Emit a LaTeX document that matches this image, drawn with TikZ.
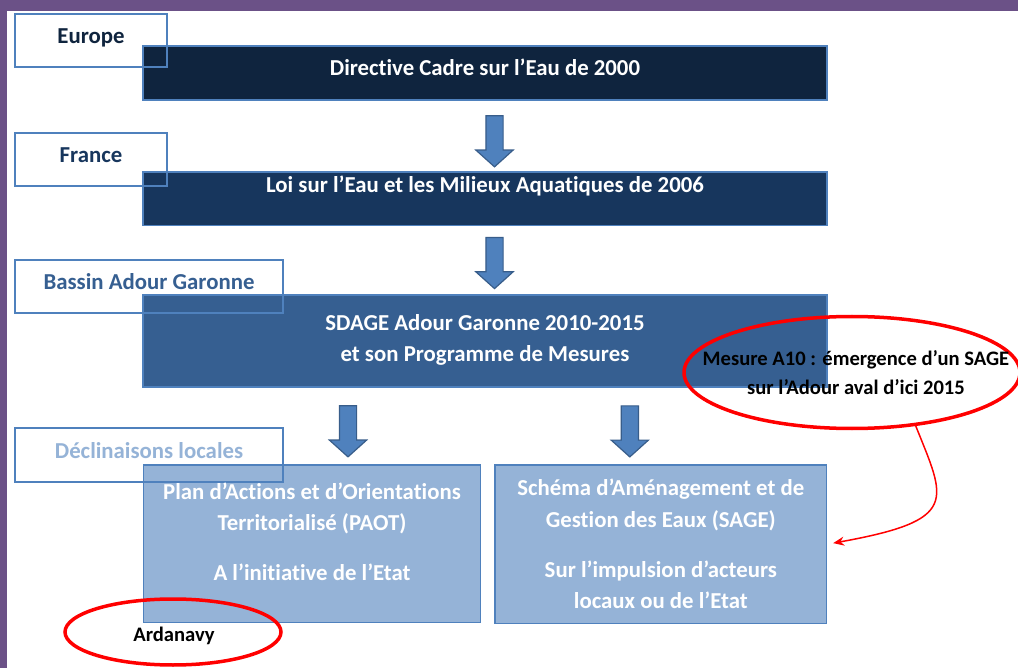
\documentclass[tikz,border=0pt]{standalone}
\usepackage{fontspec}
\setmainfont{Carlito}[Ligatures=NoCommon]
\usepackage{tikz}
\usetikzlibrary{shapes.geometric, shapes.arrows, arrows.meta, calc, positioning}

\definecolor{framepurple}{RGB}{107,81,135}
\definecolor{eurobox}{HTML}{0F243E}
\definecolor{frbox}{HTML}{17365D}
\definecolor{bassinbox}{HTML}{365F91}
\definecolor{localbox}{HTML}{95B3D7}
\definecolor{edgeblue}{HTML}{4F81BD}
\definecolor{arrowedge}{HTML}{385D8A}
\definecolor{ringred}{HTML}{FF0000}

\begin{document}
\begin{tikzpicture}[x=1pt, y=-1pt,
    levelbox/.style={rectangle, draw=edgeblue, line width=1.2pt, inner sep=0pt},
    tagbox/.style={rectangle, draw=edgeblue, line width=1.2pt, minimum height=53pt, inner sep=0pt},
    boxtext/.style={text=white, font=\fontsize{22.8}{31.5}\selectfont\bfseries, align=center, inner sep=0pt},
    tagtext/.style={font=\fontsize{22.8}{31.5}\selectfont\bfseries, inner sep=0pt},
    downarrow/.style={single arrow, draw=arrowedge, fill=edgeblue, line width=1.2pt, rotate=-90,
        minimum height=51pt, minimum width=36pt, inner xsep=0pt, inner ysep=8pt,
        single arrow head extend=10pt, single arrow tip angle=96},
    ring/.style={ellipse, draw=ringred, line width=3.5pt, inner sep=0pt},
    note/.style={font=\fontsize{20.6}{29}\selectfont\bfseries, align=center, inner sep=0pt}]

    \useasboundingbox (0, 0) rectangle (1018, 668);
    \fill[white] (0, 0) rectangle (1018, 668);
    \fill[framepurple] (0, 0) rectangle (1018, 11);
    \fill[framepurple] (0, 0) rectangle (7, 668);

    % niveaux
    \node[levelbox, fill=eurobox, minimum width=684pt, minimum height=54pt] at (485, 73) (dce) {};
    \node[levelbox, fill=frbox, minimum width=684pt, minimum height=53.5pt] at (485, 198.7) (lema) {};
    \node[levelbox, fill=bassinbox, minimum width=684pt, minimum height=92pt] at (485, 341) (sdage) {};
    \node[levelbox, fill=localbox, minimum width=337.4pt, minimum height=157.7pt] at (312, 543.8) (paot) {};
    \node[levelbox, fill=localbox, minimum width=331.7pt, minimum height=158.3pt] at (660.8, 544.2) (sage) {};

    \node[tagbox, minimum width=152pt] at (91, 40.5) (europe) {};
    \node[tagbox, minimum width=152pt] at (91, 159.5) (france) {};
    \node[tagbox, minimum width=268pt] at (149, 286.5) (bassin) {};
    \node[tagbox, minimum width=268pt, minimum height=54pt] at (149, 455) (decl) {};

    \node[tagtext, text=eurobox] at (91, 38.2) (europetxt) {Europe};
    \node[tagtext, text=frbox] at (91, 155) (francetxt) {France};
    \node[tagtext, text=bassinbox] at (149, 282) (bassintxt) {Bassin Adour Garonne};
    \node[tagtext, text=localbox] at (149, 450.4) (decltxt) {Déclinaisons locales};

    \node[boxtext] at (485, 67.1) (dcetxt) {Directive Cadre sur l’Eau de 2000};
    \node[boxtext] at (485, 186) (lematxt) {Loi sur l’Eau et les Milieux Aquatiques de 2006};
    \node[boxtext] at (485, 340.1) (sdagetxt) {SDAGE Adour Garonne 2010-2015\\ et son Programme de Mesures};
    \node[boxtext] at (312, 532) (paottxt) {Plan d’Actions et d’Orientations\\ Territorialisé (PAOT)\\[18.5pt] A l’initiative de l’Etat};
    \node[boxtext] at (660.8, 543.8) (sagetxt) {Schéma d’Aménagement et de\\ Gestion des Eaux (SAGE)\\[18.5pt] Sur l’impulsion d’acteurs\\ locaux ou de l’Etat};

    % fleches
    \node[downarrow] at ($(dce.south)!0.5!(lema.north) + (9.5, 1.5)$) (a1) {};
    \node[downarrow] at ($(lema.south)!0.5!(sdage.north) + (9.5, -1)$) (a2) {};
    \node[downarrow] at ($(sdage.south -| paot.north)!0.5!(paot.north) + (36, 1.5)$) (a3) {};
    \node[downarrow] at ($(sdage.south -| sage.north)!0.5!(sage.north) + (-31, 1.5)$) (a4) {};

    % annotations
    \node[ring, minimum width=336pt, minimum height=112pt] at (852, 372.5) (mesure) {};
    \node[note] at (856, 372.3) (mesuretxt) {Mesure A10 : émergence d’un SAGE\\ sur l’Adour aval d’ici 2015};
    \node[ring, minimum width=216pt, minimum height=66pt] at (173, 632) (ardanavy) {};
    \node[note] at (174, 635.5) (ardanavytxt) {Ardanavy};

    \draw[ringred, line width=1.5pt, -{Stealth[length=11pt, width=9pt]}, shorten >=6pt]
        (mesure.-40) .. controls +(30, 75) and +(133, -24) .. (sage.east);
\end{tikzpicture}
\end{document}
